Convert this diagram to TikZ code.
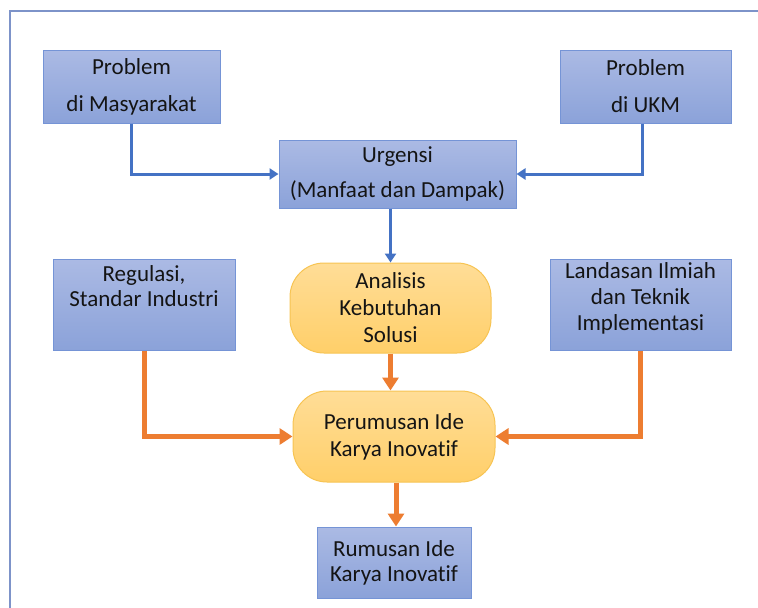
\documentclass[tikz,border=0pt]{standalone}
\usepackage{fontspec}
\setmainfont{Carlito}[Ligatures={NoCommon}]
\usetikzlibrary{arrows.meta,calc}
\definecolor{bfT}{HTML}{ABBAE4}
\definecolor{bfB}{HTML}{8BA2D9}
\definecolor{bdraw}{HTML}{7594D6}
\definecolor{barrow}{HTML}{4472C4}
\definecolor{oarrow}{HTML}{ED7D31}
\definecolor{ofT}{HTML}{FFDD97}
\definecolor{ofB}{HTML}{FFCF69}
\definecolor{odraw}{HTML}{F7C453}
\definecolor{frame}{HTML}{7D93C9}
\definecolor{txt}{HTML}{141414}
\begin{document}
\begin{tikzpicture}[x=1pt,y=-1pt,
  bbox/.style={draw=bdraw, line width=1pt, top color=bfT, bottom color=bfB,
    inner sep=0pt, align=center, text=txt},
  obox/.style={draw=odraw, line width=1pt, top color=ofT, bottom color=ofB,
    rounded corners=34pt, inner sep=0pt, align=center, text=txt},
  tlabel/.style={inner sep=0pt, align=center, text=txt, anchor=north},
  barr/.style={draw=barrow, line width=3pt, -{Triangle[length=9pt,width=11pt]}},
  oarr/.style={draw=oarrow, line width=5pt, -{Triangle[length=13pt,width=16pt]}}
]
\useasboundingbox (0,0) rectangle (758,608);
\fill[white] (0,0) rectangle (758,608);
\draw[frame, line width=1.8pt] (10,608) -- (10,11) -- (758,11);

\node[bbox, minimum width=177pt, minimum height=73pt, font=\fontsize{23}{37}\selectfont] (pm) at (131.5,86.5) {Problem\\di Masyarakat};
\node[bbox, minimum width=171pt, minimum height=73pt, font=\fontsize{23}{37}\selectfont] (pu) at (645.5,86.5) {Problem\\di UKM};
\node[bbox, minimum width=237pt, minimum height=68pt, font=\fontsize{23}{35}\selectfont] (urg) at (397.5,174) {Urgensi\\(Manfaat dan Dampak)};

\node[bbox, minimum width=182pt, minimum height=91pt] (reg) at (144,304.5) {};
\node[tlabel, font=\fontsize{23}{25}\selectfont] (regt) at (144,265) {Regulasi,\\Standar Industri};
\node[bbox, minimum width=181pt, minimum height=91pt] (lan) at (640.5,304.5) {};
\node[tlabel, font=\fontsize{23}{26}\selectfont] (lant) at (640.5,262) {Landasan Ilmiah\\dan Teknik\\Implementasi};

\node[obox, minimum width=201pt, minimum height=90pt, font=\fontsize{23}{27}\selectfont] (ana) at (390.5,308) {Analisis\\Kebutuhan\\Solusi};
\node[obox, minimum width=202pt, minimum height=91pt, font=\fontsize{23}{27}\selectfont] (per) at (394,436.5) {Perumusan Ide\\Karya Inovatif};
\node[bbox, minimum width=154pt, minimum height=71pt, font=\fontsize{23}{25}\selectfont] (rum) at (394,562.5) {Rumusan Ide\\Karya Inovatif};

\draw[barr] (pm.south) -- (pm.south |- urg.west) -- (urg.west);
\draw[barr] ($(pu.south)+(-3.5,0)$) -- ($(pu.south |- urg.east)+(-3.5,0)$) -- (urg.east);
\draw[barr] (urg.south -| ana.north) -- (ana.north);

\draw[oarr] (ana.south) -- (ana.south |- per.north);
\draw[oarr] (reg.south) -- (reg.south |- per.west) -- (per.west);
\draw[oarr] (lan.south) -- (lan.south |- per.east) -- (per.east);
\draw[oarr] ($(per.south)+(2,0)$) -- ($(rum.north)+(2,0)$);
\end{tikzpicture}
\end{document}
